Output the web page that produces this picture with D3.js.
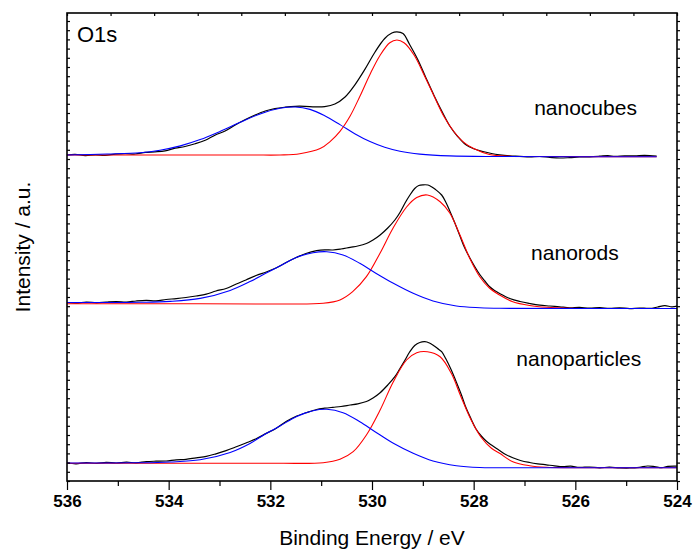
<!DOCTYPE html>
<html>
<head>
<meta charset="utf-8">
<script src="https://cdn.jsdelivr.net/npm/d3@7"></script>
<style>
  html, body { margin: 0; padding: 0; background: #fff; }
  svg { display: block; }
  text { font-family: "Liberation Sans", Arial, sans-serif; fill: #000; }
</style>
</head>
<body>
<svg id="chart" width="696" height="552"></svg>
<script>
// ---------------- data (binding energy in eV, intensity in counts, stacked) ----------------
const sampleNames = ["nanocubes", "nanorods", "nanoparticles"];
const xMajorTicks = [536, 534, 532, 530, 528, 526, 524];
const xMinorTicks = [535, 533, 531, 529, 527, 525];
const xTitle = "Binding Energy / eV";
const yTitle = "Intensity / a.u.";
const panelTitle = "O1s";

// nanocubes (top)
const cubesExp = [[536.00,3260],[535.84,3267],[535.64,3254],[535.44,3262],[535.25,3257],[535.05,3268],[534.85,3274],[534.66,3270],[534.46,3286],[534.27,3292],[534.07,3302],[533.87,3328],[533.68,3345],[533.48,3372],[533.28,3407],[533.09,3458],[532.89,3500],[532.69,3560],[532.50,3612],[532.30,3660],[532.10,3700],[531.91,3724],[531.71,3738],[531.51,3747],[531.32,3747],[531.12,3741],[530.93,3744],[530.73,3770],[530.53,3840],[530.34,3959],[530.14,4116],[529.94,4290],[529.75,4425],[529.61,4480],[529.51,4492],[529.39,4475],[529.26,4365],[529.10,4215],[528.94,4033],[528.78,3856],[528.62,3692],[528.47,3550],[528.31,3442],[528.16,3365],[528.00,3322],[527.82,3295],[527.65,3275],[527.49,3262],[527.29,3252],[527.09,3247],[526.90,3240],[526.70,3245],[526.50,3236],[526.31,3230],[526.11,3234],[525.92,3240],[525.72,3242],[525.52,3248],[525.36,3254],[525.22,3246],[525.03,3252],[524.83,3251],[524.64,3257],[524.40,3250]];
const cubesLattice = [[536.00,3260],[532.40,3260],[531.81,3260],[531.42,3272],[531.02,3324],[530.83,3392],[530.63,3497],[530.43,3650],[530.24,3845],[530.04,4066],[529.84,4258],[529.65,4383],[529.51,4410],[529.37,4383],[529.17,4258],[528.98,4066],[528.78,3850],[528.59,3650],[528.39,3495],[528.20,3389],[528.00,3324],[527.69,3265],[527.29,3248],[526.31,3245],[524.40,3243]];
const cubesHydroxyl = [[536.00,3260],[535.21,3270],[534.56,3283],[534.17,3308],[533.77,3351],[533.38,3414],[532.99,3496],[532.59,3588],[532.20,3671],[531.81,3727],[531.51,3740],[531.22,3716],[530.93,3652],[530.63,3564],[530.34,3473],[530.04,3394],[529.75,3337],[529.45,3297],[529.06,3269],[528.47,3251],[527.49,3245],[524.40,3243]];

// nanorods (middle)
const rodsExp = [[536.00,1785],[535.82,1778],[535.62,1790],[535.42,1782],[535.23,1789],[535.03,1795],[534.83,1790],[534.64,1800],[534.44,1806],[534.25,1802],[534.05,1815],[533.85,1824],[533.66,1835],[533.46,1850],[533.26,1868],[533.07,1900],[532.87,1925],[532.67,1970],[532.48,2010],[532.28,2055],[532.08,2090],[531.89,2130],[531.69,2185],[531.48,2237],[531.30,2275],[531.09,2303],[530.93,2312],[530.77,2310],[530.61,2320],[530.43,2337],[530.28,2350],[530.11,2375],[529.98,2410],[529.84,2460],[529.69,2530],[529.55,2610],[529.45,2685],[529.35,2780],[529.26,2855],[529.16,2925],[529.08,2955],[528.99,2962],[528.90,2960],[528.83,2943],[528.75,2915],[528.63,2860],[528.55,2790],[528.47,2700],[528.37,2580],[528.27,2450],[528.18,2335],[528.08,2235],[527.98,2145],[527.88,2065],[527.78,2000],[527.69,1945],[527.59,1905],[527.49,1875],[527.29,1825],[527.09,1795],[526.90,1775],[526.70,1758],[526.50,1750],[526.31,1742],[526.11,1732],[525.92,1736],[525.72,1728],[525.52,1734],[525.33,1726],[525.13,1732],[524.93,1724],[524.74,1730],[524.54,1726],[524.38,1740],[524.24,1754],[524.10,1742],[524.00,1748]];
const rodsLattice = [[536.00,1772],[533.38,1772],[531.81,1770],[530.96,1777],[530.63,1810],[530.38,1893],[530.11,2043],[529.84,2280],[529.59,2525],[529.32,2740],[529.12,2835],[528.91,2860],[528.66,2793],[528.47,2680],[528.27,2460],[528.08,2230],[527.88,2043],[527.69,1930],[527.49,1860],[527.23,1793],[526.90,1755],[526.57,1737],[526.11,1728],[524.00,1725]];
const rodsHydroxyl = [[536.00,1785],[534.56,1787],[533.97,1796],[533.38,1826],[532.79,1906],[532.40,1994],[532.10,2074],[531.81,2150],[531.48,2237],[531.16,2283],[530.89,2293],[530.57,2260],[530.24,2177],[529.94,2083],[529.58,1977],[529.19,1877],[528.80,1800],[528.34,1750],[527.88,1733],[527.49,1727],[524.00,1725]];

// nanoparticles (bottom)
const partsExp = [[536.00,180],[535.82,172],[535.62,184],[535.42,176],[535.23,186],[535.03,180],[534.83,188],[534.64,182],[534.44,194],[534.25,198],[534.05,200],[533.85,212],[533.66,216],[533.46,232],[533.26,246],[533.07,272],[532.87,304],[532.67,342],[532.48,380],[532.28,422],[532.08,476],[531.89,526],[531.69,595],[531.48,650],[531.30,682],[531.09,715],[530.93,728],[530.77,737],[530.61,745],[530.43,760],[530.28,772],[530.11,795],[529.98,830],[529.84,883],[529.69,960],[529.55,1043],[529.45,1125],[529.35,1210],[529.26,1290],[529.16,1355],[529.06,1385],[528.96,1393],[528.87,1380],[528.79,1355],[528.71,1325],[528.63,1293],[528.55,1225],[528.44,1110],[528.35,1000],[528.24,860],[528.16,745],[528.05,620],[527.96,525],[527.85,450],[527.76,402],[527.65,360],[527.55,325],[527.49,305],[527.37,265],[527.23,232],[527.08,205],[526.90,185],[526.74,172],[526.57,162],[526.41,152],[526.25,144],[526.09,148],[525.92,136],[525.72,140],[525.52,132],[525.33,138],[525.13,131],[524.93,130],[524.74,137],[524.58,150],[524.44,144],[524.30,134],[524.18,146],[524.00,148]];
const partsLattice = [[536.00,177],[533.38,177],[531.81,177],[530.96,183],[530.63,217],[530.37,293],[530.11,460],[529.84,710],[529.58,993],[529.32,1210],[529.12,1283],[528.91,1293],[528.66,1243],[528.44,1077],[528.25,843],[528.05,610],[527.85,435],[527.65,327],[527.49,277],[527.23,193],[526.90,153],[526.57,137],[526.11,133],[524.00,133]];
const partsHydroxyl = [[536.00,180],[534.56,182],[533.97,190],[533.38,212],[532.79,285],[532.40,375],[532.10,470],[531.81,550],[531.48,646],[531.16,703],[530.89,717],[530.57,683],[530.24,593],[529.94,493],[529.58,377],[529.19,277],[528.80,200],[528.34,153],[527.88,135],[527.49,133],[524.00,133]];

// ---------------- layout ----------------
const W = 696, H = 552;
const plot = { left: 67, right: 677, top: 13, bottom: 481 };

const svg = d3.select("#chart");
svg.append("rect").attr("width", W).attr("height", H).attr("fill", "#fff");

const x = d3.scaleLinear().domain([536, 524]).range([plot.left, plot.right]);
const y = d3.scaleLinear().domain([0, 4680]).range([plot.bottom, plot.top]);

const line = d3.line().x(d => x(d[0])).y(d => y(d[1])).curve(d3.curveCatmullRom.alpha(0.5));

const groups = [
  { name: sampleNames[0], exp: cubesExp, lat: cubesLattice, hyd: cubesHydroxyl, label: [526.81, 3660] },
  { name: sampleNames[1], exp: rodsExp, lat: rodsLattice, hyd: rodsHydroxyl, label: [526.87, 2210] },
  { name: sampleNames[2], exp: partsExp, lat: partsLattice, hyd: partsHydroxyl, label: [527.16, 1150] }
];

const g = svg.append("g");
groups.forEach(s => {
  g.append("path").datum(s.exp).attr("d", line).attr("fill", "none").attr("stroke", "#000").attr("stroke-width", 1.2);
  g.append("path").datum(s.lat).attr("d", line).attr("fill", "none").attr("stroke", "#ff0000").attr("stroke-width", 1.1);
  g.append("path").datum(s.hyd).attr("d", line).attr("fill", "none").attr("stroke", "#0000ff").attr("stroke-width", 1.1);
  g.append("text").attr("x", x(s.label[0])).attr("y", y(s.label[1]))
    .attr("font-size", 21).text(s.name);
});

// ---------------- axes ----------------
const bottomMajor = d3.axisBottom(x).tickValues(xMajorTicks).tickSize(9).tickPadding(5).tickFormat(d3.format("d"));
const bottomMinor = d3.axisBottom(x).tickValues(xMinorTicks).tickSize(5).tickFormat("");
const gb = svg.append("g").attr("transform", `translate(0,${plot.bottom})`).call(bottomMajor);
gb.selectAll("text").attr("font-size", 17).attr("font-weight", "bold").attr("font-family", "Liberation Sans, Arial, sans-serif");
svg.append("g").attr("transform", `translate(0,${plot.bottom})`).call(bottomMinor);

const topScale = d3.scaleLinear().domain([0, 14]).range([plot.left, plot.right]);
svg.append("g").attr("transform", `translate(0,${plot.top})`)
  .call(d3.axisTop(topScale).tickValues(d3.range(0, 15)).tickSize(-3).tickFormat(""));

const yTickVals = d3.range(0, 4681, 92);
svg.append("g").attr("transform", `translate(${plot.left},0)`)
  .call(d3.axisLeft(y).tickValues(yTickVals).tickSize(-3).tickFormat(""));
svg.append("g").attr("transform", `translate(${plot.right},0)`)
  .call(d3.axisRight(y).tickValues(yTickVals).tickSize(3).tickFormat(""));

svg.selectAll(".domain").remove();
svg.selectAll(".tick line").attr("stroke", "#000").attr("stroke-width", 1.2);

svg.append("rect")
  .attr("x", plot.left).attr("y", plot.top)
  .attr("width", plot.right - plot.left).attr("height", plot.bottom - plot.top)
  .attr("fill", "none").attr("stroke", "#000").attr("stroke-width", 1.6);

// ---------------- titles ----------------
svg.append("text").attr("x", plot.left + 10).attr("y", 42).attr("font-size", 22).text(panelTitle);
svg.append("text").attr("x", (plot.left + plot.right) / 2).attr("y", 545)
  .attr("text-anchor", "middle").attr("font-size", 21).text(xTitle);
svg.append("text").attr("transform", `translate(30,${(plot.top + plot.bottom) / 2}) rotate(-90)`)
  .attr("text-anchor", "middle").attr("font-size", 21).text(yTitle);
</script>
</body>
</html>
